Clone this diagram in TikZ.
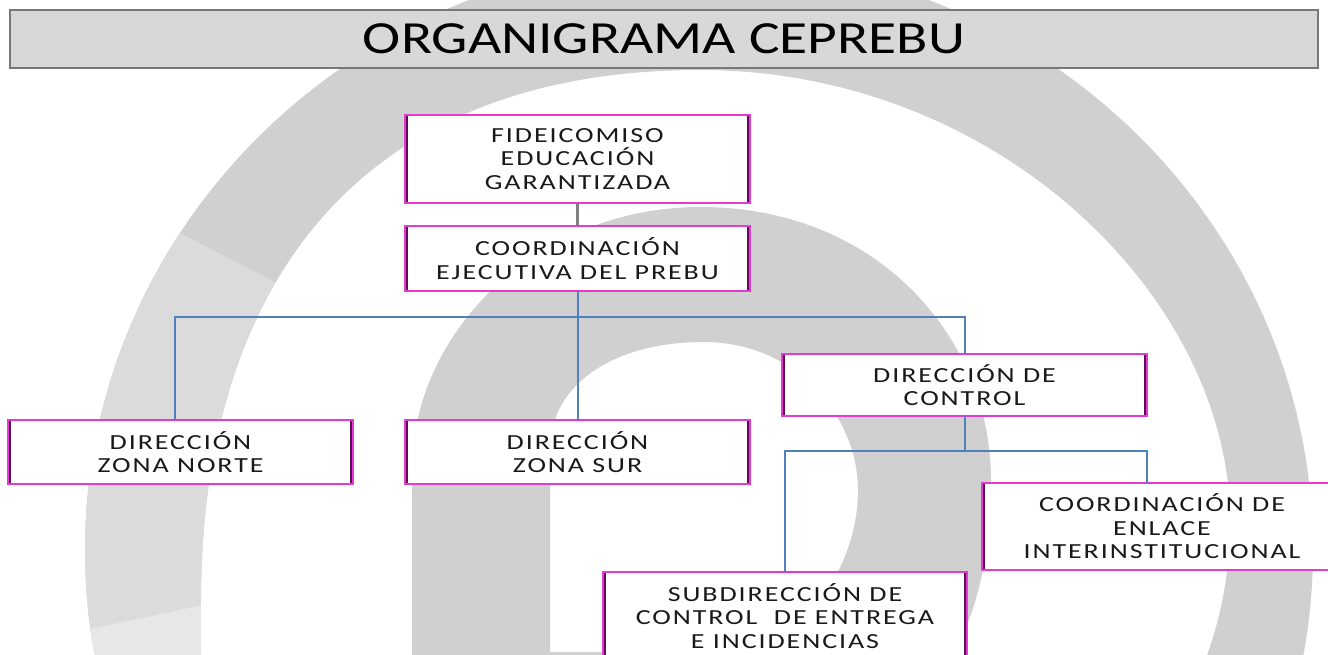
\documentclass[tikz,border=0pt]{standalone}
\usepackage{fontspec}
\usetikzlibrary{calc}
\newfontfamily\boxfont[FakeStretch=1.3,LetterSpace=9]{Carlito}
\newfontfamily\titlefont[FakeStretch=1.25]{Carlito}
\definecolor{bandA}{RGB}{208,208,208}
\definecolor{bandAl}{RGB}{219,219,219}
\definecolor{bandAll}{RGB}{231,231,231}
\definecolor{bandB}{RGB}{208,208,208}
\definecolor{titlefill}{RGB}{216,216,216}
\definecolor{titleline}{RGB}{120,120,120}
\definecolor{boxmag}{RGB}{228,58,212}
\definecolor{boxdark}{RGB}{96,10,90}
\definecolor{connblue}{RGB}{79,129,189}
\definecolor{conngray}{RGB}{128,128,128}
\definecolor{textc}{RGB}{25,25,25}
\tikzset{
  orgbox/.style={draw=boxmag, line width=2.4pt, fill=white, inner sep=0pt, outer sep=0pt,
    align=center, text=textc, font=\boxfont\fontsize{21.5}{23.5}\selectfont,
    path picture={\draw[boxdark,line width=1.6pt]
      ([xshift=2pt]path picture bounding box.south west) -- ([xshift=2pt]path picture bounding box.north west)
      ([xshift=-2pt]path picture bounding box.south east) -- ([xshift=-2pt]path picture bounding box.north east);}},
  titlebar/.style={draw=titleline, line width=1.6pt, fill=titlefill, inner sep=0pt, outer sep=0pt,
    text=black, font=\titlefont\fontsize{46}{46}\selectfont},
  conn/.style={draw=connblue, line width=2pt},
  conng/.style={draw=conngray, line width=2.2pt},
  ringA/.style={even odd rule}
}
\newcommand{\bandApath}{(699,550) ellipse [x radius=614pt, y radius=593pt]
  (200,800) -- (201,600) .. controls (201,290) and (355,70) .. (700,70)
  .. controls (1000,70) and (1230,300) .. (1230,520)
  .. controls (1230,600) and (1210,650) .. (1190,700) -- (1150,800) -- cycle}
\begin{document}
\begin{tikzpicture}[x=1pt,y=-1pt]
\useasboundingbox (0,0) rectangle (1328,655);
\clip (0,0) rectangle (1328,655);
\fill[white] (0,0) rectangle (1328,655);
% background band A (outer arch)
\fill[bandA, ringA] \bandApath;
\begin{scope}
  \clip (-790,-267) -- (471,383) -- (439,555) -- (-977,855) -- cycle;
  \fill[bandAl, ringA] \bandApath;
\end{scope}
\begin{scope}
  \clip (-977,855) -- (439,555) -- (439,900) -- (-977,900) -- cycle;
  \fill[bandAll, ringA] \bandApath;
\end{scope}
% background band B (inner loop)
\fill[bandB, even odd rule]
  (412,670) -- (412,470) .. controls (412,330) and (540,207) .. (700,207)
  .. controls (880,207) and (991,340) .. (991,480)
  .. controls (991,560) and (975,620) .. (945,670) -- cycle
  (550,652) -- (550,450) .. controls (550,380) and (620,342) .. (703,342)
  .. controls (800,342) and (858,420) .. (858,490)
  .. controls (858,570) and (800,652) .. (720,652) -- cycle;
% title
\node[titlebar, minimum width=1308pt, minimum height=58pt] (title) at (664,39) {ORGANIGRAMA CEPREBU};
% boxes
\node[orgbox, minimum width=345pt, minimum height=88pt] (fide) at (577.5,159) {FIDEICOMISO\\EDUCACIÓN\\GARANTIZADA};
\node[orgbox, minimum width=345pt, minimum height=65pt] (coord) at (577.5,258.5) {COORDINACIÓN\\EJECUTIVA DEL PREBU};
\node[orgbox, minimum width=345pt, minimum height=64pt] (norte) at (180.5,452) {DIRECCIÓN\\ZONA NORTE};
\node[orgbox, minimum width=345pt, minimum height=64pt] (sur) at (577.5,452) {DIRECCIÓN\\ZONA SUR};
\node[orgbox, minimum width=365pt, minimum height=62pt] (control) at (964.5,385) {DIRECCIÓN DE\\CONTROL};
\node[orgbox, minimum width=360pt, minimum height=87pt] (enlace) at (1162,526.5) {COORDINACIÓN DE\\ENLACE\\INTERINSTITUCIONAL};
\node[orgbox, minimum width=364pt, minimum height=88pt] (subdir) at (785,616) {SUBDIRECCIÓN DE\\CONTROL\ \ DE ENTREGA\\E INCIDENCIAS};
% connectors
\coordinate (busL) at (175,317);
\coordinate (busR) at (965,317);
\coordinate (bus2L) at (785,451);
\coordinate (bus2R) at (1147,451);
\draw[conng] (fide.south) -- (coord.north);
\draw[conn] (coord.south) -- (sur.north);
\draw[conn] (busL |- norte.north) -- (busL) -- (busR) -- (busR |- control.north);
\draw[conn] (control.south) -- (control.south |- bus2L);
\draw[conn] (bus2L |- subdir.north) -- (bus2L) -- (bus2R) -- (bus2R |- enlace.north);
\end{tikzpicture}
\end{document}
